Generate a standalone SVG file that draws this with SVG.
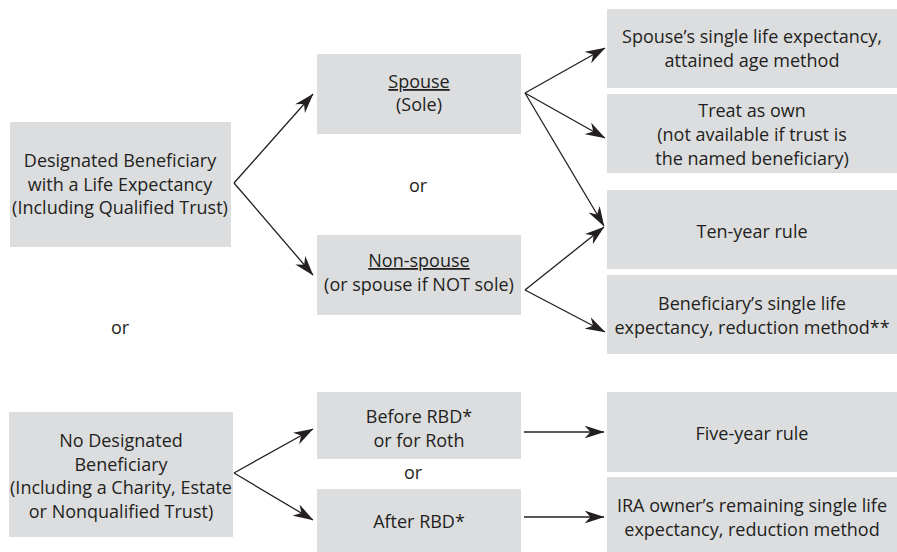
<svg xmlns="http://www.w3.org/2000/svg" width="897" height="552" viewBox="0 0 897 552">
<defs>
<style>
.box{fill:#dcdddf}
text{font-family:"Open Sans","Liberation Sans",sans-serif;font-size:18px;fill:#231f20;text-anchor:middle}
.u{text-decoration:underline}
.c{stroke:#231f20;stroke-width:1.3;fill:none}
</style>
<marker id="ah" viewBox="0 0 20 14" refX="19.5" refY="7" markerWidth="20" markerHeight="14" markerUnits="userSpaceOnUse" orient="auto">
<path d="M0,0.5 L20,7 L0,13.5 L6,7 Z" fill="#231f20"/>
</marker>
</defs>
<rect width="897" height="552" fill="#ffffff"/>

<g id="n-designated">
<rect class="box" x="10" y="122" width="221" height="125"/>
<text x="120" y="167">Designated Beneficiary</text>
<text x="120" y="191">with a Life Expectancy</text>
<text x="120" y="214">(Including Qualified Trust)</text>
</g>

<g id="n-spouse">
<rect class="box" x="317" y="54" width="204" height="80"/>
<text x="419" y="88" class="u">Spouse</text>
<text x="419" y="111">(Sole)</text>
</g>

<g id="n-nonspouse">
<rect class="box" x="317" y="235" width="204" height="80"/>
<text x="419" y="267" class="u">Non-spouse</text>
<text x="419" y="291">(or spouse if NOT sole)</text>
</g>

<g id="n-spouse-le">
<rect class="box" x="607" y="9" width="290" height="79"/>
<text x="752" y="43">Spouse’s single life expectancy,</text>
<text x="752" y="67">attained age method</text>
</g>

<g id="n-own">
<rect class="box" x="607" y="94" width="290" height="79"/>
<text x="752" y="117">Treat as own</text>
<text x="752" y="141">(not available if trust is</text>
<text x="752" y="165">the named beneficiary)</text>
</g>

<g id="n-ten">
<rect class="box" x="607" y="190" width="290" height="79"/>
<text x="752" y="238">Ten-year rule</text>
</g>

<g id="n-bene-le">
<rect class="box" x="607" y="275" width="290" height="79"/>
<text x="752" y="310">Beneficiary’s single life</text>
<text x="752" y="334">expectancy, reduction method**</text>
</g>

<g id="n-nodesig">
<rect class="box" x="9" y="412" width="224" height="125"/>
<text x="121" y="447">No Designated</text>
<text x="121" y="471">Beneficiary</text>
<text x="121" y="494">(Including a Charity, Estate</text>
<text x="121" y="518">or Nonqualified Trust)</text>
</g>

<g id="n-before">
<rect class="box" x="317" y="392" width="204" height="67"/>
<text x="419" y="423">Before RBD*</text>
<text x="419" y="447">or for Roth</text>
</g>

<g id="n-after">
<rect class="box" x="317" y="489" width="204" height="63"/>
<text x="419" y="528">After RBD*</text>
</g>

<g id="n-five">
<rect class="box" x="607" y="392" width="290" height="80"/>
<text x="752" y="440">Five-year rule</text>
</g>

<g id="n-ira">
<rect class="box" x="607" y="477" width="290" height="75"/>
<text x="752" y="512">IRA owner’s remaining single life</text>
<text x="752" y="536">expectancy, reduction method</text>
</g>

<g id="or-labels">
<text x="418" y="192">or</text>
<text x="120" y="334">or</text>
<text x="413" y="479">or</text>
</g>

<g id="connectors">
<path class="c" marker-end="url(#ah)" d="M234,183 L313,94"/>
<path class="c" marker-end="url(#ah)" d="M234,183 L313,275"/>
<path class="c" marker-end="url(#ah)" d="M525,93 L605,48"/>
<path class="c" marker-end="url(#ah)" d="M525,93 L605,138"/>
<path class="c" marker-end="url(#ah)" d="M525,93 L604,226"/>
<path class="c" marker-end="url(#ah)" d="M525,290 L604,227"/>
<path class="c" marker-end="url(#ah)" d="M525,290 L605,332"/>
<path class="c" marker-end="url(#ah)" d="M234,473 L313,429"/>
<path class="c" marker-end="url(#ah)" d="M234,473 L313,520"/>
<path class="c" marker-end="url(#ah)" d="M524,432 L604,432"/>
<path class="c" marker-end="url(#ah)" d="M524,517 L604,517"/>
</g>
</svg>
